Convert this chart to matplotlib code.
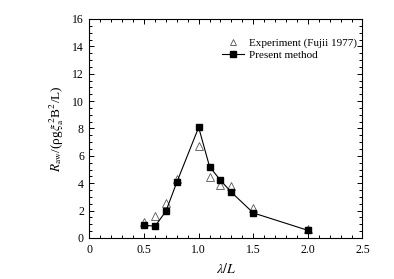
import matplotlib
matplotlib.use("Agg")
import matplotlib.pyplot as plt
from matplotlib.ticker import MultipleLocator

plt.rcParams['font.family'] = ['Liberation Serif', 'DejaVu Serif']
plt.rcParams['mathtext.fontset'] = 'stix'

lam_exp = [0.5, 0.6, 0.7, 0.8, 1.0, 1.1, 1.2, 1.3, 1.5, 2.0]
raw_exp = [1.17, 1.6, 2.53, 4.29, 6.74, 4.46, 3.87, 3.82, 2.17, 0.66]

lam_pre = [0.5, 0.6, 0.7, 0.8, 1.0, 1.1, 1.2, 1.3, 1.5, 2.0]
raw_pre = [0.95, 0.85, 1.95, 4.07, 8.08, 5.21, 4.21, 3.34, 1.83, 0.56]

xtick_vals = [0, 0.5, 1.0, 1.5, 2.0, 2.5]
xtick_labels = ['0', '0.5', '1.0', '1.5', '2.0', '2.5']

fig = plt.figure(figsize=(3.94, 2.79), dpi=100)
ax = fig.add_axes([0.227, 0.147, 0.693, 0.785])

ax.plot(lam_exp, raw_exp, linestyle='none', marker='^', markersize=5.5,
        markerfacecolor='white', markeredgecolor='#555555', markeredgewidth=0.6,
        label='Experiment (Fujii 1977)')
ax.plot(lam_pre, raw_pre, color='black', linewidth=0.8, marker='s', markersize=4.3,
        markerfacecolor='black', markeredgecolor='black', label='Present method')

ax.set_xlim(0, 2.5)
ax.set_ylim(0, 16)
ax.xaxis.set_minor_locator(MultipleLocator(0.1))
ax.yaxis.set_major_locator(MultipleLocator(2))
ax.yaxis.set_minor_locator(MultipleLocator(0.5))
ax.set_xticks(xtick_vals)
ax.set_xticklabels(xtick_labels)
ax.tick_params(which='both', direction='in', top=True, right=True, labelsize=8.5, width=0.7, pad=4)
ax.tick_params(which='major', length=3.5)
ax.tick_params(which='minor', length=2)
for s in ax.spines.values():
    s.set_linewidth(0.8)

ax.set_xlabel(r'$\lambda/L$', fontsize=10, labelpad=5)
ax.set_ylabel(r'$R_{\mathrm{aw}}$/(ρg$\xi_{\mathrm{a}}^{\,2}$B$^2$/L)', fontsize=9.5, labelpad=4)

leg = ax.legend(loc='upper right', frameon=False, fontsize=8, handlelength=2.0,
                handletextpad=0.45, labelspacing=0.2, borderaxespad=0.1,
                bbox_to_anchor=(1.0, 0.94), markerscale=0.85)

fig.savefig('out.png', dpi=100)
